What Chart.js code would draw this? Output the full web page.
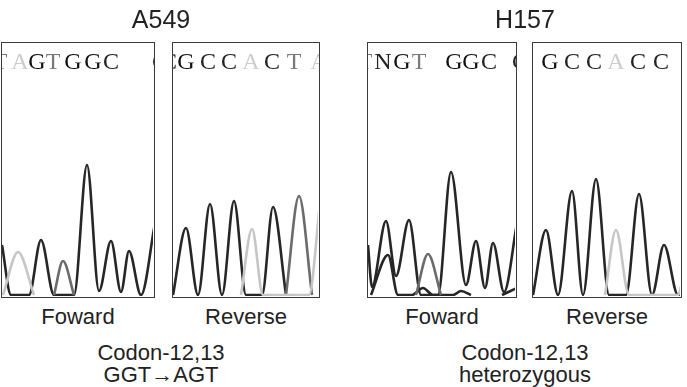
<!DOCTYPE html>
<html>
<head>
<meta charset="utf-8">
<script src="https://cdn.jsdelivr.net/npm/chart.js@4.4.1/dist/chart.umd.min.js"></script>
<style>
  body { margin: 0; width: 687px; height: 387px; background: #fff; position: relative; overflow: hidden;
         font-family: "Liberation Sans", Arial, sans-serif; color: #222; }
  .panel { position: absolute; top: 42px; height: 256px; border: 1.5px solid #3a3a3a; box-sizing: border-box; overflow: hidden; background: #fff; }
  .panel canvas { position: absolute; left: 0; top: 0; }
  .base { position: absolute; top: 6px; line-height: 24px; font-size: 24px; transform: translateX(-50%);
          font-family: "Liberation Serif", "DejaVu Serif", serif; }
  .lbl { position: absolute; width: 220px; text-align: center; font-size: 22px; line-height: 22px; }
  .title { font-size: 25px; line-height: 25px; }
</style>
</head>
<body>

<script>
// ---- trace data: [scan position, signal] ----
// A549 forward
const a549FwdDark = [[0,50],[9,0],[27,0],[39,55],[52,0],[72,0],[85,130],[97,4],[109,54],[119,3],[127,44],[139,0],[153,72]];
const a549FwdMid = [[52,0],[61,34],[72,0]];
const a549FwdLight = [[1,0],[16,43],[32,0]];
const a549FwdBases = ["T","A","G","T","G","G","C","C"];
const a549FwdBasePos = [-2,18,35,51,71,91,109,158];

// A549 reverse
const a549RevDark = [[0,0],[13,67],[25,0],[37,91],[49,0],[61,94],[73,0],[89,0],[100,88],[113,0]];
const a549RevMid = [[113,0],[126,99],[139,0]];
const a549RevLight = [[68,0],[79,66],[90,0],[136,0],[147,92]];
const a549RevBases = ["C","G","C","C","A","C","T","A"];
const a549RevBasePos = [-4,13,35,56,78,99,121,146];

// H157 forward
const h157FwdDark = [[0,50],[4,8],[18,74],[28,19],[41,75],[53,0],[70,0],[83,123],[98,10],[108,54],[117,7],[125,52],[136,3],[149,72]];
const h157FwdDark2 = [[3,0],[20,40],[30,0],[44,0],[55,7],[65,0],[85,0],[93,4],[103,0],[118,null],[134,0],[149,7]];
const h157FwdMid = [[48,0],[60,41],[73,0]];
const h157FwdBases = ["T","N","G","T","G","G","C","C"];
const h157FwdBasePos = [-3,15,34,51,86,103,121,152];

// H157 reverse
const h157RevDark = [[0,0],[13,65],[25,0],[39,104],[50,0],[63,116],[76,0],[93,0],[106,101],[119,0],[131,50],[145,0],[149,0]];
const h157RevLight = [[72,0],[83,65],[96,0],[145,0],[149,12]];
const h157RevBases = ["G","C","C","A","C","C"];
const h157RevBasePos = [17,39,61,83,105,128];

// ---- styling ----
const DARK = "#262626", MID = "#6b6b6b", LIGHT = "#c6c6c6";
const baseColor = { G: "#111", C: "#222", N: "#222", T: "#7a7a7a", A: "#cdcdcd" };

function toPts(arr) {
  return arr.map(function (p) { return { x: p[0], y: p[1] }; });
}

function makePanel(left, width, traces, bases, basePos) {
  let div = document.createElement("div");
  div.className = "panel";
  div.style.left = left + "px";
  div.style.width = width + "px";
  document.body.appendChild(div);

  let canvas = document.createElement("canvas");
  let w = width - 3, h = 253;
  canvas.width = w;
  canvas.height = h;
  canvas.style.width = w + "px";
  canvas.style.height = h + "px";
  div.appendChild(canvas);

  let chart = new Chart(canvas.getContext("2d"), {
    type: "line",
    data: {
      datasets: traces.map(function (t) {
        return {
          data: toPts(t.data),
          borderColor: t.color,
          borderWidth: 2.6,
          pointRadius: 0,
          fill: false,
          spanGaps: false,
          cubicInterpolationMode: "monotone",
          clip: false,
        };
      }),
    },
    options: {
      responsive: false,
      animation: false,
      layout: { padding: 0 },
      plugins: { legend: { display: false }, tooltip: { enabled: false } },
      scales: {
        x: { type: "linear", min: 0, max: w, display: false },
        y: { min: -1, max: h - 1, display: false },
      },
    },
  });

  //base calls on top, placed through the x scale
  bases.forEach(function (b, i) {
    let s = document.createElement("span");
    s.className = "base";
    s.textContent = b;
    s.style.color = baseColor[b];
    s.style.left = chart.scales.x.getPixelForValue(basePos[i]) + "px";
    div.appendChild(s);
  });
  return chart;
}

function label(text, cx, top, cls) {
  let d = document.createElement("div");
  d.className = "lbl" + (cls ? " " + cls : "");
  d.style.left = (cx - 110) + "px";
  d.style.top = top + "px";
  d.textContent = text;
  document.body.appendChild(d);
}

makePanel(1, 154, [
  { data: a549FwdLight, color: LIGHT },
  { data: a549FwdMid, color: MID },
  { data: a549FwdDark, color: DARK },
], a549FwdBases, a549FwdBasePos);

makePanel(172, 148, [
  { data: a549RevLight, color: LIGHT },
  { data: a549RevMid, color: MID },
  { data: a549RevDark, color: DARK },
], a549RevBases, a549RevBasePos);

makePanel(367, 150, [
  { data: h157FwdMid, color: MID },
  { data: h157FwdDark2, color: DARK },
  { data: h157FwdDark, color: DARK },
], h157FwdBases, h157FwdBasePos);

makePanel(532, 150, [
  { data: h157RevLight, color: LIGHT },
  { data: h157RevDark, color: DARK },
], h157RevBases, h157RevBasePos);

label("A549", 161, 7, "title");
label("H157", 525, 7, "title");
label("Foward", 78, 306);
label("Reverse", 246, 306);
label("Foward", 442, 306);
label("Reverse", 607, 306);
label("Codon-12,13", 161, 342);
label("GGT\u2192AGT", 161, 364);
label("Codon-12,13", 525, 342);
label("heterozygous", 525, 364);
</script>
</body>
</html>
